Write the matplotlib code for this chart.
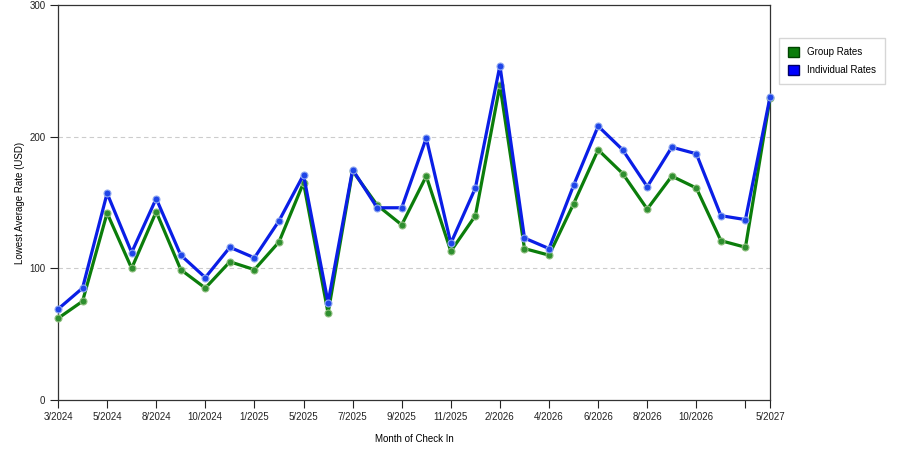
import matplotlib.pyplot as plt
from matplotlib.patches import Patch

# lowest average rate per check-in month (USD)
group_rates = [62, 75, 142, 100, 143, 99, 85, 105, 99, 120, 165, 66,
               174, 148, 133, 170, 113, 140, 239, 115, 110, 149, 190, 172,
               145, 170, 161, 121, 116, 229]
individual_rates = [69, 85, 157, 112, 153, 110, 93, 116, 108, 136, 171, 74,
                    175, 146, 146, 199, 119, 161, 254, 123, 115, 163, 208, 190,
                    162, 192, 187, 140, 137, 230]
tick_labels = ['3/2024', '5/2024', '8/2024', '10/2024', '1/2025', '5/2025',
               '7/2025', '9/2025', '11/2025', '2/2026', '4/2026', '6/2026',
               '8/2026', '10/2026', '', '5/2027']

green = '#0b7d0b'
blue = '#0a1ee6'

plt.rcParams['font.family'] = ['Liberation Sans', 'DejaVu Sans']
fig = plt.figure(figsize=(9, 4.5), dpi=100)
ax = fig.add_axes([58/900, 1 - 400/450, (770 - 58)/900, (400 - 5)/450])

x = list(range(len(group_rates)))
ax.plot(x, group_rates, color=green, lw=2.3, marker='o', ms=5,
        mfc='#2f8f2f', mec='#8fbf80', mew=0.8, zorder=3, clip_on=False)
ax.plot(x, individual_rates, color=blue, lw=2.3, marker='o', ms=5,
        mfc='#1f45e8', mec='#8fa8f0', mew=0.8, zorder=4, clip_on=False)

ax.set_xlim(0, len(x) - 1)
ax.set_ylim(0, 300)
ax.set_yticks([0, 100, 200, 300])
ticks = list(range(0, len(x) - 1, 2)) + [len(x) - 1]
ax.set_xticks(ticks)
ax.set_xticklabels(tick_labels)
ax.tick_params(axis='both', direction='out', length=6, width=0.8,
               labelsize=7, colors='#222222', pad=3)
for y in [100, 200]:
    ax.axhline(y, color='#cccccc', lw=0.8, ls=(0, (4, 3)), zorder=1)
for s in ax.spines.values():
    s.set_color('#333333')
    s.set_linewidth(0.9)

ax.set_xlabel('Month of Check In', fontsize=7, labelpad=8)
ax.set_ylabel('Lowest Average Rate (USD)', fontsize=7, labelpad=3)

handles = [Patch(facecolor=green, edgecolor='#004400', label='Group Rates'),
           Patch(facecolor='#0000ff', edgecolor='#000066', label='Individual Rates')]
fig.legend(handles=handles, loc='upper left', bbox_to_anchor=(779/900, 1 - 38/450),
           borderaxespad=0, fontsize=7, frameon=True, fancybox=False,
           edgecolor='#cccccc', handlelength=1.2, handleheight=1.2,
           borderpad=0.9, labelspacing=0.8, handletextpad=0.8)

fig.savefig('out.png', dpi=100)
